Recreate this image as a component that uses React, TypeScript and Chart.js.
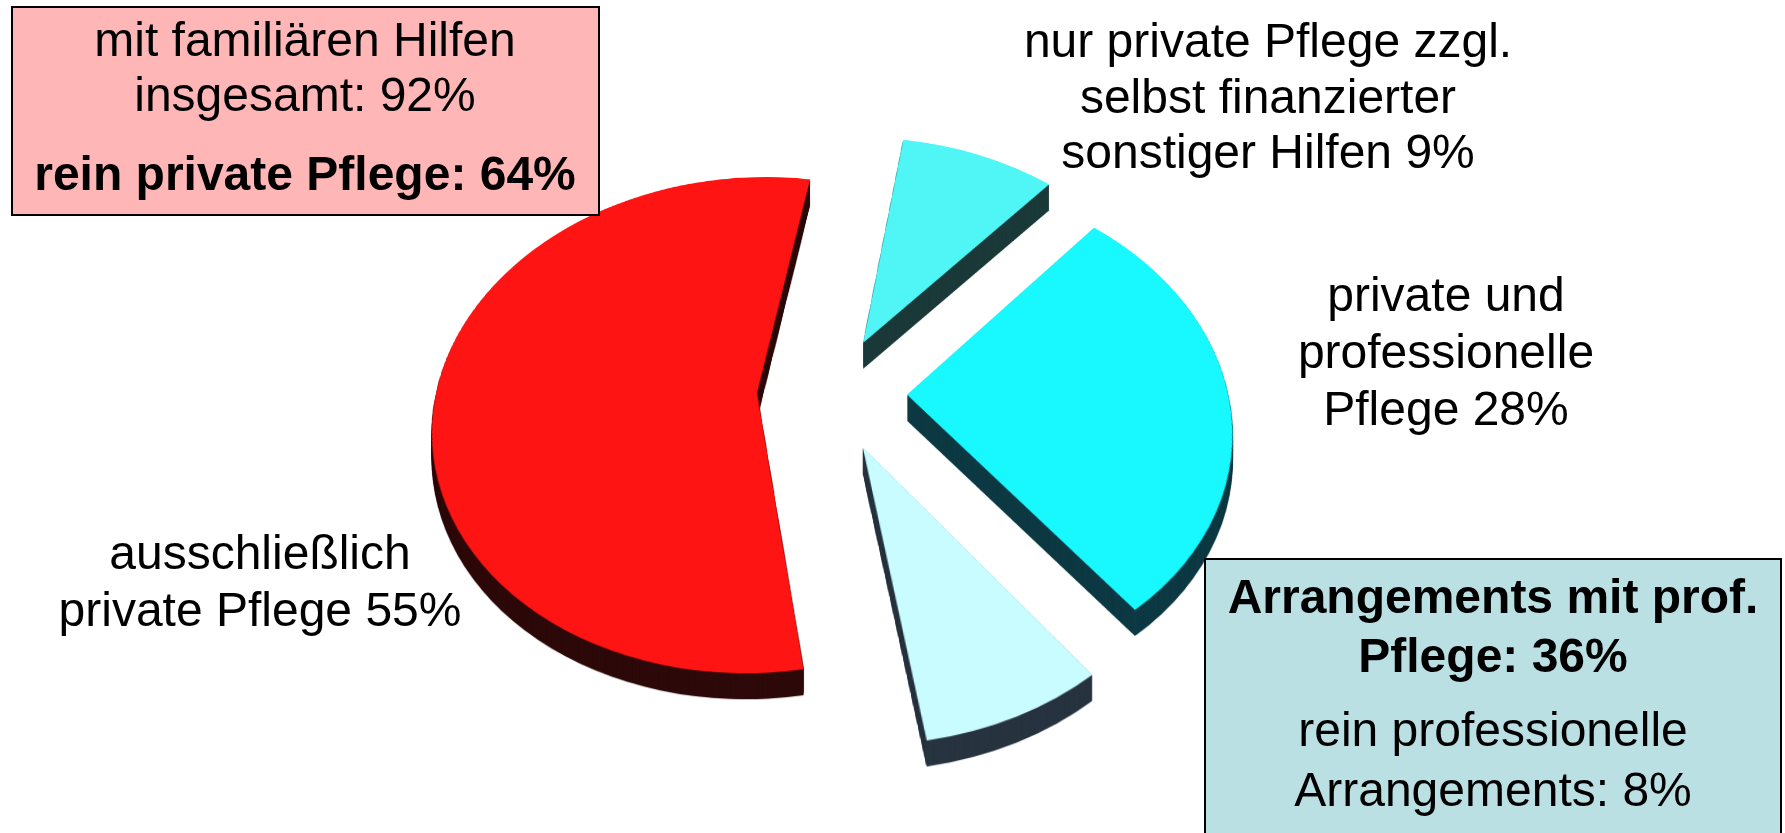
import React, { useEffect, useRef } from 'react';
import { Chart, registerables } from 'chart.js';

Chart.register(...registerables);

// ---- data ----
const categories = [
  'nur private Pflege zzgl. selbst finanzierter sonstiger Hilfen',
  'private und professionelle Pflege',
  'rein professionelle Arrangements',
  'ausschließlich private Pflege',
];
const values = [9, 28, 8, 55];
const topColors = ['#50f6f6', '#17f8ff', '#c9fcff', '#ff1414'];
const sideColors = ['#1c3a3a', '#0e3a44', '#283440', '#2e0a0a'];

const labelOther = ['nur private Pflege zzgl.', 'selbst finanzierter', 'sonstiger Hilfen 9%'];
const labelMixed = ['private und', 'professionelle', 'Pflege 28%'];
const labelPrivate = ['ausschließlich', 'private Pflege 55%'];
const familyLines = ['mit familiären Hilfen', 'insgesamt: 92%'];
const familyBold = 'rein private Pflege: 64%';
const profBold = ['Arrangements mit prof.', 'Pflege: 36%'];
const profLines = ['rein professionelle', 'Arrangements: 8%'];

// ---- 3D perspective look ----
const VIEW = { cx: 832, cy: 393, L: 2480, c: 0.76, depth: 26 };
const EXPLODE = 75; // px every slice is pulled out from the centre
const FONT = '"Liberation Sans", Arial, Helvetica, sans-serif';
const FS = 48;

function hexToRgb(h: string) {
  const n = parseInt(h.slice(1), 16);
  return [(n >> 16) & 255, (n >> 8) & 255, n & 255];
}

const pie3d = {
  id: 'pie3d',
  afterDatasetsDraw(chart: any) {
    const meta = chart.getDatasetMeta(0);
    const arcs = meta.data;
    if (!arcs || !arcs.length) return;
    const a0: any = arcs[0];
    const dpr = chart.currentDevicePixelRatio || 1;
    const canvas: HTMLCanvasElement = chart.canvas;
    const ctx: CanvasRenderingContext2D = chart.ctx;
    const R = a0.outerRadius;
    const S = Math.ceil(R + EXPLODE + 12);
    const size = 2 * S;
    const sx0 = a0.x - S;
    const sy0 = a0.y - S;
    const pw = Math.round(size * dpr);

    // exploded top faces, drawn by the arc elements themselves
    const top = document.createElement('canvas');
    top.width = pw;
    top.height = pw;
    const tctx = top.getContext('2d')!;
    tctx.scale(dpr, dpr);
    arcs.forEach((el: any) => {
      const mid = (el.startAngle + el.endAngle) / 2;
      tctx.save();
      tctx.translate(S - el.x + Math.cos(mid) * EXPLODE, S - el.y + Math.sin(mid) * EXPLODE);
      el.draw(tctx);
      tctx.restore();
    });

    // side walls: same shapes in the darker wall colours
    const side = document.createElement('canvas');
    side.width = pw;
    side.height = pw;
    const sctx = side.getContext('2d')!;
    const img = tctx.getImageData(0, 0, pw, pw);
    const d = img.data;
    const tops = topColors.map(hexToRgb);
    const sides = sideColors.map(hexToRgb);
    for (let i = 0; i < d.length; i += 4) {
      if (d[i + 3] === 0) continue;
      let best = 0;
      let bd = 1e12;
      for (let k = 0; k < tops.length; k++) {
        const dr = d[i] - tops[k][0];
        const dg = d[i + 1] - tops[k][1];
        const db = d[i + 2] - tops[k][2];
        const dist = dr * dr + dg * dg + db * db;
        if (dist < bd) { bd = dist; best = k; }
      }
      d[i] = sides[best][0];
      d[i + 1] = sides[best][1];
      d[i + 2] = sides[best][2];
    }
    sctx.putImageData(img, 0, 0);

    const { cx, cy, L, c, depth } = VIEW;
    const yStart = Math.floor(cy + (-S * c * L) / (L + S)) - 1;
    const yEnd = Math.ceil(cy + (S * c * L) / (L - S)) + 1;

    // perspective tilt of the flat pie, row by row
    const warp = (src: HTMLCanvasElement, target: CanvasRenderingContext2D) => {
      target.imageSmoothingEnabled = true;
      for (let yd = yStart; yd < yEnd; yd++) {
        const t0 = yd - cy;
        const t1 = yd + 1 - cy;
        const v0 = (t0 * L) / (c * L + t0);
        const v1 = (t1 * L) / (c * L + t1);
        if (v1 <= -S || v0 >= S) continue;
        const a = Math.max(v0, -S);
        const b = Math.min(v1, S);
        if (b <= a) continue;
        const vm = (a + b) / 2;
        const P = L / (L - vm);
        target.drawImage(
          src,
          0, (a + S) * dpr, pw, (b - a) * dpr,
          (cx - S * P) * dpr, yd * dpr, size * P * dpr, dpr
        );
      }
    };

    const sideWarp = document.createElement('canvas');
    sideWarp.width = canvas.width;
    sideWarp.height = canvas.height;
    const swctx = sideWarp.getContext('2d')!;
    warp(side, swctx);

    ctx.save();
    ctx.setTransform(1, 0, 0, 1, 0, 0);
    ctx.clearRect(sx0 * dpr, sy0 * dpr, pw, pw);
    for (let k = depth; k >= 1; k--) {
      ctx.drawImage(sideWarp, 0, k * dpr);
    }
    warp(top, ctx);
    ctx.restore();
  },
};

function TextLine(props: { x: number; baseline: number; text: string; bold?: boolean; width?: number }) {
  const w = props.width ?? 700;
  return (
    <div
      style={{
        position: 'absolute',
        left: props.x - w / 2,
        top: props.baseline - 0.8465 * FS,
        width: w,
        height: FS,
        lineHeight: `${FS}px`,
        fontSize: FS,
        fontFamily: FONT,
        fontWeight: props.bold ? 'bold' : 'normal',
        textAlign: 'center',
        whiteSpace: 'nowrap',
        color: '#000',
      }}
    >
      {props.text}
    </div>
  );
}

export default function App() {
  const ref = useRef<HTMLCanvasElement | null>(null);

  useEffect(() => {
    document.body.style.margin = '0';
    const cv = ref.current;
    if (!cv) return;
    const chart = new Chart(cv, {
      type: 'pie',
      data: {
        labels: categories,
        datasets: [
          {
            data: values,
            backgroundColor: topColors,
            borderWidth: 0,
            offset: 0,
            radius: 321,
            rotation: 9,
          } as any,
        ],
      },
      options: {
        responsive: false,
        animation: false,
        rotation: 9,
        radius: 321,
        events: [],
        layout: { padding: { left: 416, right: 537, top: 0, bottom: 0 } },
        plugins: {
          legend: { display: false },
          tooltip: { enabled: false },
        },
      } as any,
      plugins: [pie3d as any],
    });
    return () => chart.destroy();
  }, []);

  return (
    <div
      style={{
        position: 'absolute',
        left: 0,
        top: 0,
        width: 1785,
        height: 833,
        overflow: 'hidden',
        background: '#fff',
      }}
    >
      <canvas ref={ref} width={1785} height={833} style={{ position: 'absolute', left: 0, top: 0, width: 1785, height: 833 }} />

      <div
        style={{
          position: 'absolute',
          left: 11,
          top: 6,
          width: 585,
          height: 206,
          border: '2px solid #000',
          background: '#ffb6b6',
        }}
      />
      <TextLine x={305} baseline={57} text={familyLines[0]} />
      <TextLine x={305} baseline={112} text={familyLines[1]} />
      <TextLine x={305} baseline={191} text={familyBold} bold />

      <TextLine x={1268} baseline={58} text={labelOther[0]} />
      <TextLine x={1268} baseline={114} text={labelOther[1]} />
      <TextLine x={1268} baseline={169} text={labelOther[2]} />

      <TextLine x={1446} baseline={312} text={labelMixed[0]} />
      <TextLine x={1446} baseline={369} text={labelMixed[1]} />
      <TextLine x={1446} baseline={426} text={labelMixed[2]} />

      <TextLine x={260} baseline={570} text={labelPrivate[0]} />
      <TextLine x={260} baseline={627} text={labelPrivate[1]} />

      <div
        style={{
          position: 'absolute',
          left: 1204,
          top: 558,
          width: 574,
          height: 320,
          border: '2px solid #000',
          background: '#bbe0e3',
        }}
      />
      <TextLine x={1493} baseline={614} text={profBold[0]} bold />
      <TextLine x={1493} baseline={673} text={profBold[1]} bold />
      <TextLine x={1493} baseline={747} text={profLines[0]} />
      <TextLine x={1493} baseline={807} text={profLines[1]} />
    </div>
  );
}
